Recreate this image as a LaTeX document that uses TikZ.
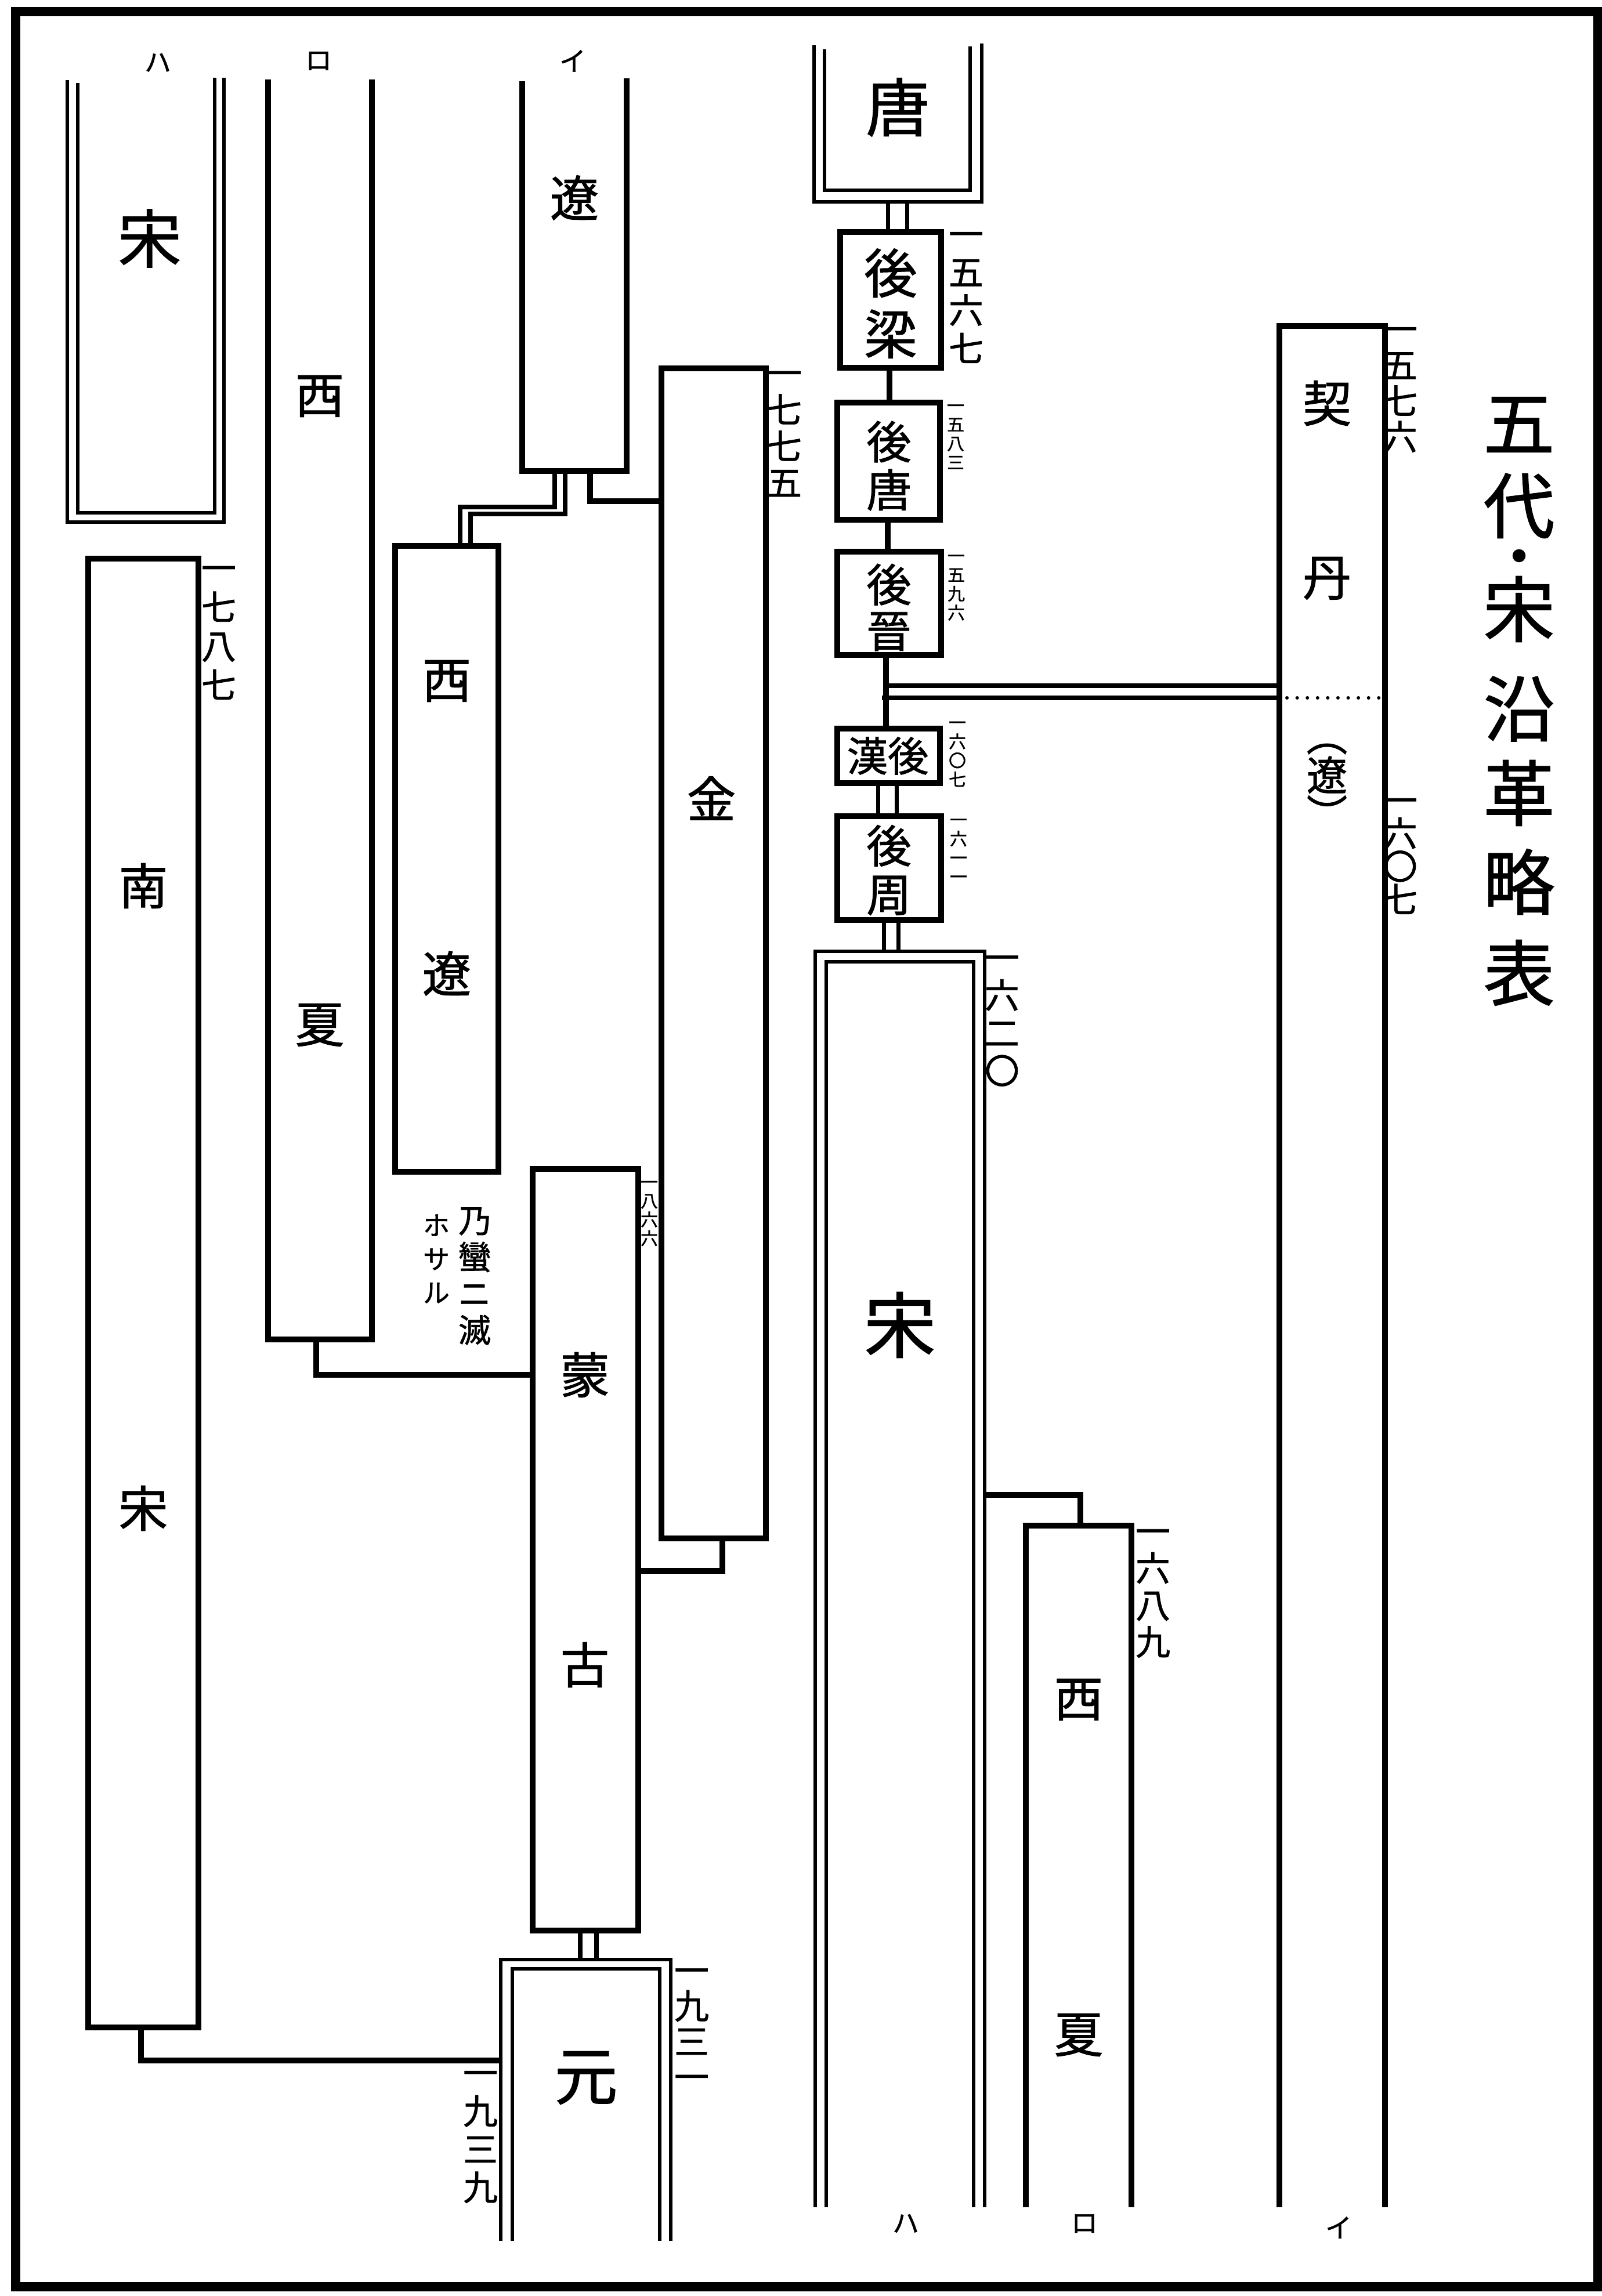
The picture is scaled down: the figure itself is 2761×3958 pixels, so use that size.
\documentclass[tikz,border=0pt]{standalone}
\usepackage{fontspec}
\newfontfamily\cjk{Noto Sans CJK JP}[FakeBold=1.2]
\begin{document}
\begin{tikzpicture}[x=0.01cm,y=-0.01cm,
  frame/.style={line width=4.5pt},
  bx/.style={line width=2.7pt},
  dbx/.style={line width=1.8pt},
  cn/.style={line width=2.6pt},
  dcn/.style={line width=2pt},
  lbl/.style={font=\cjk\fontsize{#1}{#1}\selectfont, inner sep=0pt},
  vlbl/.style 2 args={font=\cjk\fontsize{#1}{#2}\selectfont, align=center, inner sep=0pt},
  dotline/.style={line width=1.7pt, dash pattern=on 0pt off 5pt, line cap=round}
]
\useasboundingbox (0,0) rectangle (2761,3958);
\fill[white] (0,0) rectangle (2761,3958);
\draw[frame] (27,20) rectangle (2754,3942);

% column marks
\node[lbl=13pt] (haTop) at (272,108) {ハ};
\node[lbl=13pt] (roTop) at (549,105) {ロ};
\node[lbl=13pt] (iTop) at (987,105) {イ};
\node[lbl=13pt] (haBot) at (1561,3833) {ハ};
\node[lbl=13pt] (roBot) at (1869,3833) {ロ};
\node[lbl=13pt] (iBot) at (2307,3840) {イ};

% ---- left part ----
% Song (top left), double box open at top
\draw[dbx] (116,138) -- (116,900) -- (386,900) -- (386,134);
\draw[dbx] (134,143) -- (134,884) -- (370,884) -- (370,134);
\node[lbl=31pt] (songA) at (258,411) {宋};

% Xi Xia (left)
\draw[bx] (462,137) -- (462,2309) -- (641,2309) -- (641,137);
\node[lbl=24pt] (xiA) at (551,683) {西};
\node[lbl=24pt] (xiaA) at (551,1767) {夏};

% Southern Song
\draw[bx] (152,963) rectangle (342,3495);
\node[lbl=24pt] (nan) at (247,1527) {南};
\node[lbl=24pt] (songB) at (247,2600) {宋};
\node[vlbl={17pt}{19.1pt}] (y1787) at (377,1091) {一\\七\\八\\七};

% Liao
\draw[bx] (900,140) -- (900,812) -- (1080,812) -- (1080,135);
\node[lbl=24pt] (liaoA) at (990,341) {遼};

% Western Liao
\draw[bx] (681,941) rectangle (859,2020);
\node[lbl=24pt] (xlA) at (770,1174) {西};
\node[lbl=24pt] (xlB) at (770,1678) {遼};
\draw[dcn] (956,812) -- (956,874) -- (793,874) -- (793,941);
\draw[dcn] (974,812) -- (974,886) -- (811,886) -- (811,941);
\draw[cn] (1017,812) -- (1017,864) -- (1140,864);
\node[vlbl={16pt}{17.9pt}] (noteA) at (818,2200) {乃\\蠻\\ニ\\滅};
\node[vlbl={13pt}{16.5pt}] (noteB) at (752,2170) {ホ\\サ\\ル};

% Jin
\draw[bx] (1140,635) rectangle (1320,2652);
\node[lbl=24pt] (jin) at (1226,1376) {金};
\node[vlbl={17pt}{17.9pt}] (y1775) at (1352,748) {一\\七\\七\\五};
\draw[cn] (1245,2652) -- (1245,2708) -- (1100,2708);

% Mongol
\draw[bx] (918,2015) rectangle (1100,3328);
\node[lbl=24pt] (meng) at (1008,2370) {蒙};
\node[lbl=24pt] (gu) at (1008,2870) {古};
\node[vlbl={8.5pt}{9.2pt}] (y1866) at (1119,2092) {一\\八\\六\\六};
\draw[cn] (545,2309) -- (545,2370) -- (918,2370);
\draw[dcn] (1000,3328) -- (1000,3378);
\draw[dcn] (1028,3328) -- (1028,3378);

% Yuan
\draw[dbx] (863,3863) -- (863,3378) -- (1156,3378) -- (1156,3863);
\draw[dbx] (883,3863) -- (883,3394) -- (1137,3394) -- (1137,3863);
\node[lbl=31pt] (yuan) at (1010,3582) {元};
\node[vlbl={17pt}{17.4pt}] (y1931) at (1192,3498) {一\\九\\三\\一};
\node[vlbl={17pt}{18.7pt}] (y1939) at (828,3684) {一\\九\\三\\九};
\draw[cn] (243,3495) -- (243,3552) -- (863,3552);

% ---- middle column: Tang and Five Dynasties ----
\draw[dbx] (1403,78) -- (1403,348) -- (1692,348) -- (1692,75);
\draw[dbx] (1421,85) -- (1421,328) -- (1672,328) -- (1672,80);
\node[lbl=31pt] (tang) at (1547,185) {唐};
\draw[dcn] (1530,348) -- (1530,400);
\draw[dcn] (1563,348) -- (1563,400);

\draw[bx] (1448,400) rectangle (1622,634);
\node[vlbl={26pt}{29.9pt}] (houliang) at (1535,523) {後\\梁};
\node[vlbl={17pt}{18.7pt}] (y1567) at (1665,513) {一\\五\\六\\七};
\draw[cn] (1533,634) -- (1533,694);

\draw[bx] (1443,694) rectangle (1620,896);
\node[vlbl={22pt}{23.6pt}] (houtang) at (1532,803) {後\\唐};
\node[vlbl={8.5pt}{9.3pt}] (y1583) at (1647,753) {一\\五\\八\\三};
\draw[cn] (1530,896) -- (1530,951);

\draw[bx] (1443,951) rectangle (1622,1129);
\node[vlbl={22pt}{22.5pt}] (houjin) at (1532,1047) {後\\晉};
\node[vlbl={8.5pt}{9.3pt}] (y1596) at (1648,1013) {一\\五\\九\\六};
\draw[cn] (1527,1129) -- (1527,1256);
\draw[dcn] (1527,1182) -- (2205,1182);
\draw[dcn] (1520,1203) -- (2205,1203);

\draw[bx] (1443,1256) rectangle (1620,1350);
\node[lbl=20pt] (houhan) at (1530,1303) {漢後};
\node[vlbl={8.5pt}{9.3pt}] (y1607a) at (1650,1300) {一\\六\\〇\\七};
\draw[dcn] (1513,1350) -- (1513,1407);
\draw[dcn] (1545,1350) -- (1545,1407);

\draw[bx] (1443,1407) rectangle (1622,1586);
\node[vlbl={22pt}{23.9pt}] (houzhou) at (1532,1500) {後\\周};
\node[vlbl={8.5pt}{9.3pt}] (y1611) at (1652,1467) {一\\六\\一\\一};
\draw[dcn] (1523,1586) -- (1523,1640);
\draw[dcn] (1548,1586) -- (1548,1640);

% Song (big)
\draw[dbx] (1405,3805) -- (1405,1640) -- (1697,1640) -- (1697,3805);
\draw[dbx] (1424,3805) -- (1424,1658) -- (1678,1658) -- (1678,3805);
\node[lbl=35pt] (songC) at (1551,2284) {宋};
\node[vlbl={17pt}{18.5pt}] (y1620) at (1727,1760) {一\\六\\二\\〇};
\draw[cn] (1697,2577) -- (1862,2577) -- (1862,2630);

% Xi Xia (right)
\draw[bx] (1768,3805) -- (1768,2630) -- (1950,2630) -- (1950,3805);
\node[lbl=24pt] (xiB) at (1859,2930) {西};
\node[lbl=24pt] (xiaB) at (1859,3508) {夏};
\node[vlbl={17pt}{18.1pt}] (y1689) at (1987,2747) {一\\六\\八\\九};

% Khitan
\draw[bx] (2205,3805) -- (2205,562) -- (2387,562) -- (2387,3805);
\draw[dotline] (2218,1203) -- (2378,1203);
\node[lbl=24pt] (qi) at (2287,695) {契};
\node[lbl=24pt] (dan) at (2287,997) {丹};
\node[vlbl={20pt}{16pt}] (liaoB) at (2287,1356) {︵\\遼\\︶};
\node[vlbl={17pt}{17.6pt}] (y1576) at (2413,672) {一\\五\\七\\六};
\node[vlbl={17pt}{16.2pt}] (y1607b) at (2413,1476) {一\\六\\〇\\七};

% Title (vertical)
\node[lbl=35pt] (ti1) at (2618,732) {五};
\node[lbl=35pt] (ti2) at (2618,872) {代};
\node[lbl=7pt] (ti3) at (2618,958) {●};
\node[lbl=35pt] (ti4) at (2618,1050) {宋};
\node[lbl=35pt] (ti5) at (2618,1222) {沿};
\node[lbl=35pt] (ti6) at (2618,1367) {革};
\node[lbl=35pt] (ti7) at (2618,1520) {略};
\node[lbl=35pt] (ti8) at (2618,1677) {表};
\end{tikzpicture}
\end{document}
